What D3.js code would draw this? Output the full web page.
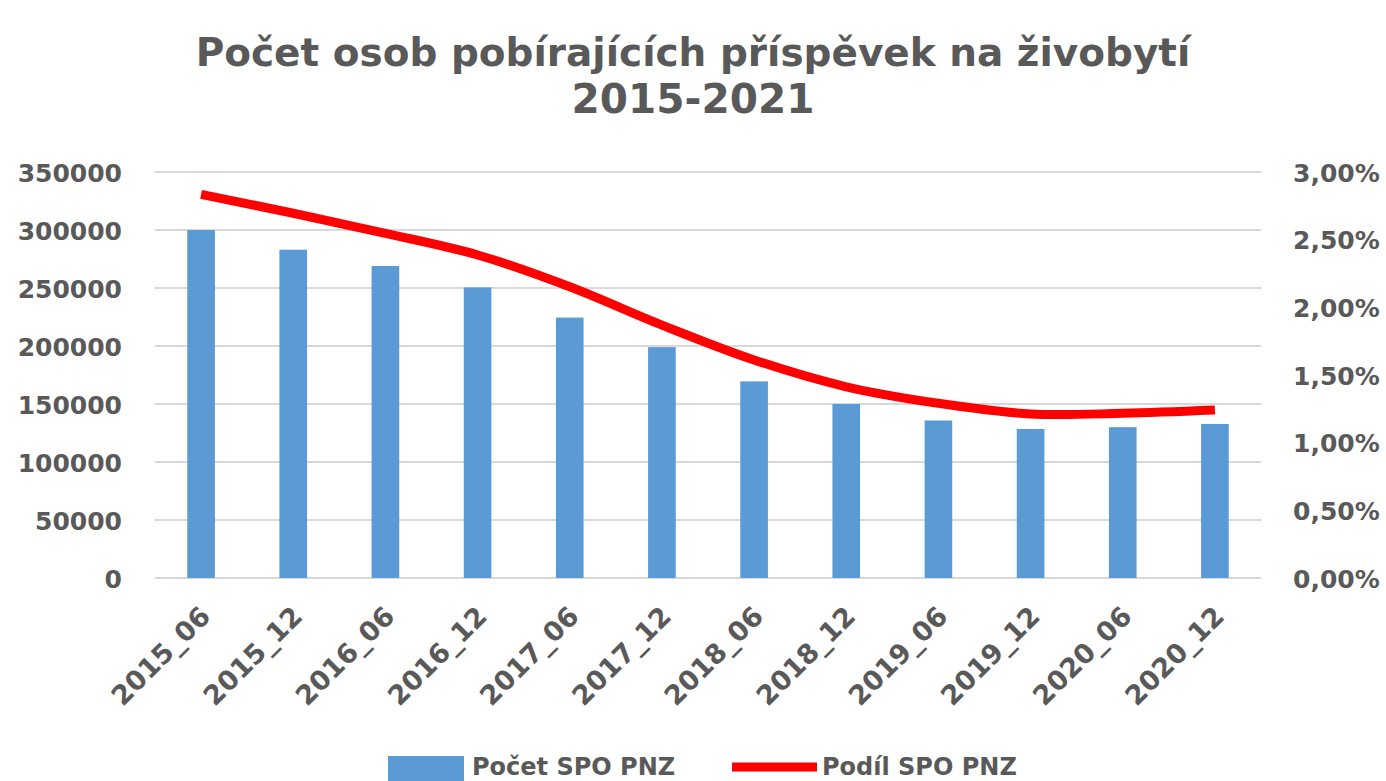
<!DOCTYPE html>
<html>
<head>
<meta charset="utf-8">
<script src="https://cdn.jsdelivr.net/npm/d3@7"></script>
<style>
  body { margin: 0; background: #fff; }
  svg { display: block; }
  text { font-family: "DejaVu Sans", sans-serif; font-weight: bold; fill: #595959; }
</style>
</head>
<body>
<div id="d3"></div>
<script>
// data
var periods = ["2015_06", "2015_12", "2016_06", "2016_12", "2017_06", "2017_12",
               "2018_06", "2018_12", "2019_06", "2019_12", "2020_06", "2020_12"];
var pocetSPO = [300000, 283000, 269000, 250500, 224500, 199000,
                169500, 150000, 135800, 128500, 130000, 132800];
var podilSPO = [0.02835, 0.02695, 0.02547, 0.02387, 0.02152, 0.01869,
                0.01611, 0.01413, 0.01291, 0.01212, 0.01217, 0.01241];
var leftTicks = [0, 50000, 100000, 150000, 200000, 250000, 300000, 350000];
var rightTicks = [0, 0.005, 0.01, 0.015, 0.02, 0.025, 0.03];
var titleLines = ["Počet osob pobírajících příspěvek na živobytí", "2015-2021"];
var legendNames = ["Počet SPO PNZ", "Podíl SPO PNZ"];

var W = 1386, H = 781;
var plotL = 155, plotR = 1261, plotT = 172, plotB = 578;

var svg = d3.select("#d3").append("svg")
        .attr("width", W)
        .attr("height", H);

var x = d3.scaleBand()
        .domain(periods)
        .range([plotL, plotR])
        .paddingInner(0.7)
        .paddingOuter(0.35);

var y = d3.scaleLinear().domain([0, 350000]).range([plotB, plotT]);
var y2 = d3.scaleLinear().domain([0, 0.03]).range([plotB, plotT]);

// gridlines
svg.append("g").selectAll("line")
        .data(leftTicks).enter()
        .append("line")
        .attr("x1", plotL)
        .attr("x2", plotR)
        .attr("y1", function(d) { return y(d); })
        .attr("y2", function(d) { return y(d); })
        .attr("stroke", "#d9d9d9")
        .attr("stroke-width", 2);

// left axis
var ya = svg.append("g")
        .attr("transform", "translate(" + (plotL - 33) + ",0)")
        .call(d3.axisLeft(y).tickValues(leftTicks).tickSize(0).tickPadding(0).tickFormat(d3.format("d")));
ya.select(".domain").remove();
ya.selectAll("text")
        .attr("font-size", "25px")
        .attr("font-family", null)
        .attr("fill", null)
        .attr("dy", "0.36em");

// right axis
var czPct = d3.formatLocale({decimal: ",", thousands: " ", grouping: [3], currency: ["", " Kč"]}).format(".2%");
var yb = svg.append("g")
        .attr("transform", "translate(" + (plotR + 32) + ",0)")
        .call(d3.axisRight(y2).tickValues(rightTicks).tickSize(0).tickPadding(0).tickFormat(czPct));
yb.select(".domain").remove();
yb.selectAll("text")
        .attr("font-size", "25px")
        .attr("font-family", null)
        .attr("fill", null)
        .attr("dy", "0.36em");

// bars
svg.append("g").selectAll("rect")
        .data(pocetSPO).enter()
        .append("rect")
        .attr("x", function(d, i) { return x(periods[i]); })
        .attr("y", function(d) { return y(d); })
        .attr("width", x.bandwidth())
        .attr("height", function(d) { return y(0) - y(d); })
        .attr("fill", "#5b9bd5");

// line
var line = d3.line()
        .x(function(d, i) { return x(periods[i]) + x.bandwidth() / 2; })
        .y(function(d) { return y2(d); })
        .curve(d3.curveCatmullRom.alpha(0.5));

svg.append("path")
        .datum(podilSPO)
        .attr("d", line)
        .attr("fill", "none")
        .attr("stroke", "#ff0000")
        .attr("stroke-width", 9);

// x labels
svg.append("g").selectAll("text")
        .data(periods).enter()
        .append("text")
        .attr("transform", function(d) {
            return "translate(" + (x(d) + x.bandwidth() / 2 + 4) + "," + (plotB + 33) + ") rotate(-45)";
        })
        .attr("text-anchor", "end")
        .attr("dy", "0.36em")
        .attr("font-size", "27px")
        .text(function(d) { return d; });

// title, fitted to the widths in the picture
var titleWidths = [995, 243];
var titleY = [66, 113];
titleLines.forEach(function(s, i) {
    var t = svg.append("text")
            .attr("x", W / 2)
            .attr("y", titleY[i])
            .attr("text-anchor", "middle")
            .attr("font-size", "36px")
            .text(s);
    var w = t.node().getComputedTextLength();
    t.attr("font-size", (36 * titleWidths[i] / w) + "px");
});

// legend
var lg = svg.append("g");
lg.append("rect")
        .attr("x", 388).attr("y", 756)
        .attr("width", 76).attr("height", 25)
        .attr("fill", "#5b9bd5");
lg.append("text")
        .attr("x", 472).attr("y", 775)
        .attr("font-size", "24px")
        .text(legendNames[0]);
lg.append("line")
        .attr("x1", 732).attr("x2", 817)
        .attr("y1", 767).attr("y2", 767)
        .attr("stroke", "#ff0000")
        .attr("stroke-width", 9);
lg.append("text")
        .attr("x", 822).attr("y", 775)
        .attr("font-size", "24px")
        .text(legendNames[1]);

d3.select("#d3").style("height", H + "px");
</script>
</body>
</html>
